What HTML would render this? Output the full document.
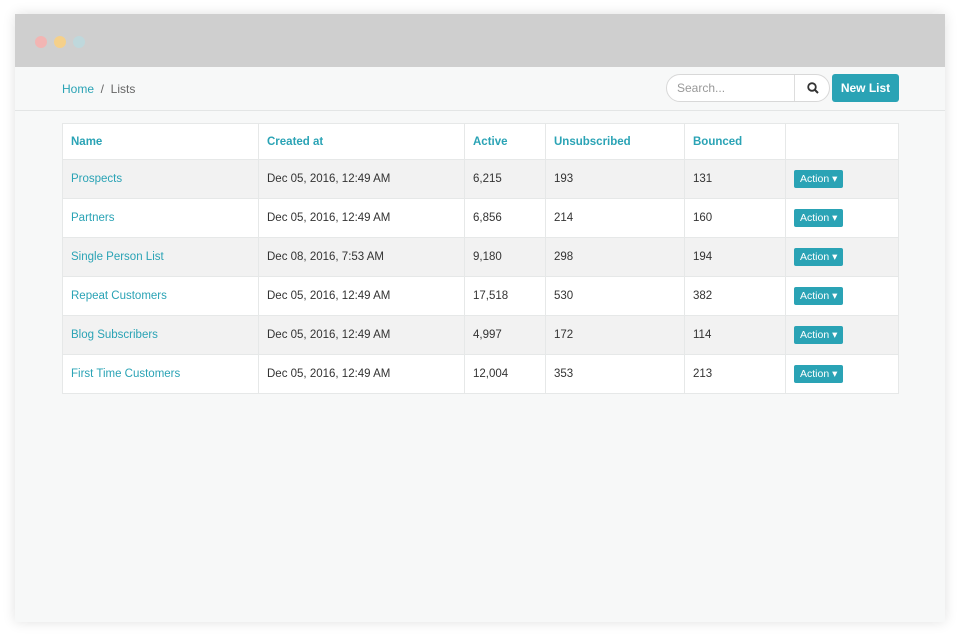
<!DOCTYPE html>
<html><head><style>
body{margin:0;width:960px;height:638px;background:#fff;font-family:"Liberation Sans",sans-serif;position:relative;overflow:hidden}
.win{position:absolute;left:15px;top:14px;width:930px;height:608px;background:#f7f8f8;box-shadow:0 0 12px rgba(0,0,0,.12)}
.bar{position:absolute;left:0;top:0;width:930px;height:53px;background:#cfcfcf}
.dot{position:absolute;top:22px;width:12px;height:12px;border-radius:50%}
.hdr{position:absolute;left:0;top:53px;width:930px;height:43px;border-bottom:1px solid #e3e5e5}
.crumb{position:absolute;left:47px;top:15px;font-size:12px;color:#666}
.crumb a{color:#2aa3b5}
.search{position:absolute;left:651px;top:7px;width:162px;height:26px;border:1px solid #d8d8d8;border-radius:14px;background:#fff}
.search span{position:absolute;left:10px;top:6px;font-size:12px;color:#999}
.search i{position:absolute;left:127px;top:0;width:1px;height:26px;background:#ddd}
.btn{position:absolute;left:817px;top:7px;width:67px;height:28px;background:#2aa3b5;border-radius:3px;color:#fff;font-size:12px;font-weight:bold;text-align:center;line-height:28px}
table{position:absolute;left:47px;top:109px;width:837px;border-collapse:collapse;font-size:11.5px;background:#fff}
td{border:1px solid #e6e8e8;height:38px;padding:0 0 0 8px;color:#333}
tr.h td{height:35px;color:#2aa3b5;font-weight:bold}
tr.g td{background:#f2f2f2}
td.n{color:#2aa3b5}
.act{display:inline-block;background:#2aa3b5;color:#fff;font-size:10.5px;padding:3px 6px;border-radius:2px}
</style></head><body>
<div class="win">
<div class="bar"><div class="dot" style="left:20px;background:#f2b5b3"></div><div class="dot" style="left:39px;background:#f5d08a"></div><div class="dot" style="left:58px;background:#bfd8dc"></div></div>
<div class="hdr"><div class="crumb"><a>Home</a> &nbsp;/&nbsp; Lists</div>
<div class="search"><span>Search...</span><i></i><svg style="position:absolute;left:140px;top:7px" width="12" height="12"><circle cx="5" cy="5" r="3.8" fill="none" stroke="#333" stroke-width="1.8"/><line x1="8" y1="8" x2="11" y2="11" stroke="#333" stroke-width="2"/></svg></div>
<div class="btn">New List</div></div>
<table>
<tr class="h"><td style="width:187px">Name</td><td style="width:197px">Created at</td><td style="width:72px">Active</td><td style="width:130px">Unsubscribed</td><td style="width:92px">Bounced</td><td></td></tr>
<tr class="g"><td class="n">Prospects</td><td>Dec 05, 2016, 12:49 AM</td><td>6,215</td><td>193</td><td>131</td><td><span class="act">Action ▾</span></td></tr>
<tr><td class="n">Partners</td><td>Dec 05, 2016, 12:49 AM</td><td>6,856</td><td>214</td><td>160</td><td><span class="act">Action ▾</span></td></tr>
<tr class="g"><td class="n">Single Person List</td><td>Dec 08, 2016, 7:53 AM</td><td>9,180</td><td>298</td><td>194</td><td><span class="act">Action ▾</span></td></tr>
<tr><td class="n">Repeat Customers</td><td>Dec 05, 2016, 12:49 AM</td><td>17,518</td><td>530</td><td>382</td><td><span class="act">Action ▾</span></td></tr>
<tr class="g"><td class="n">Blog Subscribers</td><td>Dec 05, 2016, 12:49 AM</td><td>4,997</td><td>172</td><td>114</td><td><span class="act">Action ▾</span></td></tr>
<tr><td class="n">First Time Customers</td><td>Dec 05, 2016, 12:49 AM</td><td>12,004</td><td>353</td><td>213</td><td><span class="act">Action ▾</span></td></tr>
</table>
</div>
</body></html>
